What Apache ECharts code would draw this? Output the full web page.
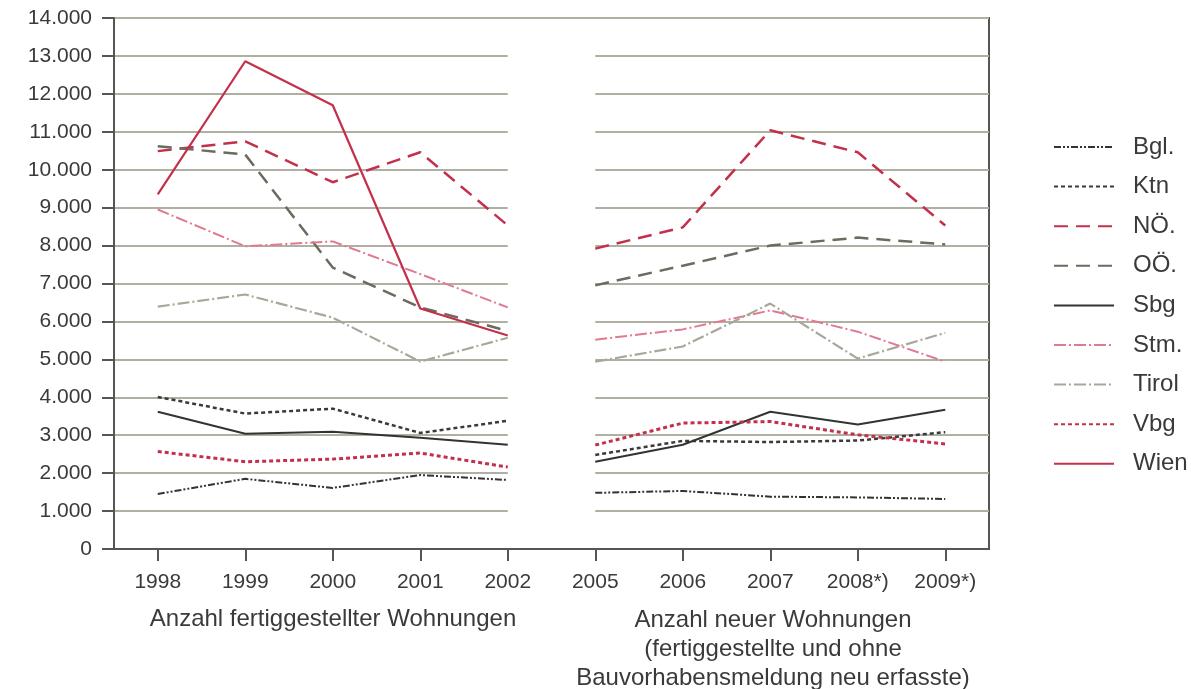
<!DOCTYPE html>
<html>
<head>
<meta charset="utf-8">
<script src="https://cdn.jsdelivr.net/npm/echarts@6/dist/echarts.min.js"></script>
<style>
html,body{margin:0;padding:0;background:#fff;}
#c{width:1191px;height:689px;}
</style>
</head>
<body>
<div id="c"></div>
<script>
// ---- data ----
const years = ['1998','1999','2000','2001','2002','2005','2006','2007','2008*)','2009*)'];
const yTicks = [0,1000,2000,3000,4000,5000,6000,7000,8000,9000,10000,11000,12000,13000,14000];
const bgl   = [1450,1850,1610,1950,1820, 1480,1530,1380,1360,1320];
const ktn   = [4010,3570,3700,3060,3380, 2480,2850,2820,2860,3080];
const noe   = [10490,10750,9670,10460,8530, 7920,8480,11040,10460,8530];
const ooe   = [10620,10400,7420,6370,5750, 6950,7470,8000,8210,8030];
const sbg   = [3620,3040,3090,2930,2750, 2300,2750,3620,3280,3670];
const stm   = [8950,7980,8110,7250,6370, 5520,5790,6290,5730,4940];
const tirol = [6390,6710,6100,4940,5570, 4940,5340,6470,5020,5700];
const vbg   = [2570,2300,2370,2530,2160, 2740,3320,3360,3010,2770];
const wien  = [9350,12860,11700,6340,5630, null,null,null,null,null];
const leftLabel = 'Anzahl fertiggestellter Wohnungen';
const rightLabel = 'Anzahl neuer Wohnungen\n(fertiggestellte und ohne\nBauvorhabensmeldung neu erfasste)';
// -------------

const FONT = '"Liberation Sans", Arial, Helvetica, sans-serif';
const TXT = '#3a3a3a';
const RED = '#c3304b';

const defs = [
  {name:'Bgl.',  data:bgl,   color:'#333333', width:2,   dash:[7,2,2,2,2,2]},
  {name:'Ktn',   data:ktn,   color:'#3a3a3a', width:2.5, dash:[4,3]},
  {name:'NÖ.',   data:noe,   color:RED,       width:2.5, dash:[14,8]},
  {name:'OÖ.',   data:ooe,   color:'#6b6b5e', width:2.5, dash:[14,8]},
  {name:'Sbg',   data:sbg,   color:'#333333', width:2,   dash:'solid'},
  {name:'Stm.',  data:stm,   color:'#e07a90', width:2,   dash:[12,3,2,3]},
  {name:'Tirol', data:tirol, color:'#a8a89a', width:2.2, dash:[12,3,2,3]},
  {name:'Vbg',   data:vbg,   color:RED,       width:3,   dash:[4,3]},
  {name:'Wien',  data:wien,  color:RED,       width:2.2, dash:'solid'}
];

const series = [];
defs.forEach(d => {
  const left = d.data.map((v,i) => i < 5 ? v : null);
  const right = d.data.map((v,i) => i >= 5 ? v : null);
  [left, right].forEach(arr => {
    if (arr.every(v => v === null)) return;
    series.push({
      name: d.name, type: 'line', data: arr, symbol: 'none', connectNulls: false,
      color: d.color,
      lineStyle: {color: d.color, width: d.width, type: d.dash},
      emphasis: {disabled: true}, animation: false, z: 3
    });
  });
});
// white band that interrupts the grid lines between the two periods
series.push({
  type: 'line', data: [], silent: true, animation: false, z: 1,
  markArea: {
    silent: true,
    itemStyle: {color: '#ffffff'},
    data: [[{xAxis: years[4], yAxis: 500}, {xAxis: years[5], yAxis: 13500}]]
  }
});

const chart = echarts.init(document.getElementById('c'), null, {renderer: 'canvas'});
chart.setOption({
  animation: false,
  backgroundColor: '#ffffff',
  textStyle: {fontFamily: FONT},
  grid: {left: 114, right: 202, top: 18, bottom: 140, show: true, borderColor: '#555555', borderWidth: 2},
  legend: {
    orient: 'vertical', left: 1053, top: 135, padding: 0,
    data: defs.map(d => d.name),
    itemWidth: 60, itemHeight: 14, itemGap: 15.6,
    itemStyle: {opacity: 0},
    textStyle: {fontFamily: FONT, fontSize: 24, color: TXT, lineHeight: 22, padding: [0,0,0,14]},
    selectedMode: false
  },
  xAxis: {
    type: 'category', data: years, boundaryGap: true,
    axisLine: {lineStyle: {color: '#555555', width: 2}},
    axisTick: {show: true, alignWithLabel: true, length: 12, inside: false, lineStyle: {color: '#555555', width: 2}},
    axisLabel: {fontFamily: FONT, fontSize: 21, color: TXT, margin: 23},
    splitLine: {show: false}
  },
  yAxis: {
    type: 'value', min: 0, max: 14000, interval: 1000,
    axisLine: {show: true, lineStyle: {color: '#555555', width: 2}},
    axisTick: {show: true, length: 12, lineStyle: {color: '#555555', width: 2}},
    axisLabel: {fontFamily: FONT, fontSize: 21, color: TXT, margin: 22,
      formatter: v => yTicks.indexOf(v) >= 0 ? String(v).replace(/\B(?=(\d{3})+(?!\d))/g, '.') : ''},
    splitLine: {show: true, lineStyle: {color: '#b0b0a2', width: 2}}
  },
  graphic: [
    {type: 'text', x: 333, y: 607, style: {text: leftLabel, font: '24px ' + FONT, fill: TXT, align: 'center', verticalAlign: 'top'}},
    {type: 'text', x: 773, y: 606, style: {text: rightLabel, font: '24px ' + FONT, fill: TXT, align: 'center', verticalAlign: 'top', lineHeight: 29}}
  ],
  series: series
});
</script>
</body>
</html>
